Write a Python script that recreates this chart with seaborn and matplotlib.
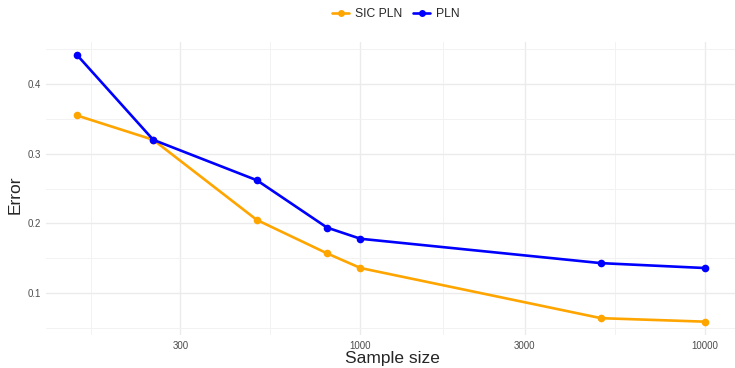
import numpy as np
import pandas as pd
import seaborn as sns
import matplotlib.pyplot as plt
from matplotlib.ticker import FixedLocator, NullFormatter

# values
sample_size = [150, 250, 500, 800, 1000, 5000, 10000]
err_sic_pln = [0.355, 0.320, 0.205, 0.157, 0.136, 0.064, 0.059]
err_pln = [0.442, 0.320, 0.262, 0.194, 0.178, 0.143, 0.136]
methods = ["SIC PLN", "PLN"]
colors = {"SIC PLN": "#FFA500", "PLN": "#0000FF"}
x_ticks = [300, 1000, 3000, 10000]
y_ticks = [0.1, 0.2, 0.3, 0.4]

df = pd.DataFrame({
    "Sample size": sample_size * 2,
    "Error": err_sic_pln + err_pln,
    "method": ["SIC PLN"] * len(sample_size) + ["PLN"] * len(sample_size),
})

sns.set_style("white")
plt.rcParams["font.family"] = ["Liberation Sans", "DejaVu Sans"]

fig = plt.figure(figsize=(7.35, 3.68), dpi=100)
ax = fig.add_axes([45.5 / 735, 33 / 368, 690.5 / 735, 293.5 / 368])

sns.lineplot(data=df, x="Sample size", y="Error", hue="method", hue_order=methods,
             palette=colors, marker="o", markersize=5.5, markeredgewidth=0,
             linewidth=1.9, ax=ax, legend=False, zorder=3)

ax.set_xscale("log")
lo, hi = np.log10(min(sample_size)), np.log10(max(sample_size))
pad = (hi - lo) * 0.05
ax.set_xlim(10 ** (lo - pad), 10 ** (hi + pad))
ymin, ymax = min(err_sic_pln + err_pln), max(err_sic_pln + err_pln)
ypad = (ymax - ymin) * 0.05
ax.set_ylim(ymin - ypad, ymax + ypad)

# ggplot-style grid: majors plus minors halfway (in log space)
lx = np.log10(x_ticks)
step = lx[1] - lx[0]
ext = np.concatenate([[lx[0] - step], lx])
minor_x = 10 ** ((ext[:-1] + ext[1:]) / 2)
ax.xaxis.set_major_locator(FixedLocator(x_ticks))
ax.xaxis.set_minor_locator(FixedLocator(minor_x))
ax.xaxis.set_minor_formatter(NullFormatter())
ax.set_xticklabels([str(v) for v in x_ticks])
ax.yaxis.set_major_locator(FixedLocator(y_ticks))
ax.yaxis.set_minor_locator(FixedLocator([0.05, 0.15, 0.25, 0.35, 0.45]))
ax.set_yticklabels([str(v) for v in y_ticks])

ax.grid(which="major", color="#EBEBEB", linewidth=1.0, zorder=0)
ax.grid(which="minor", color="#F2F2F2", linewidth=0.7, zorder=0)
for s in ax.spines.values():
    s.set_visible(False)
ax.tick_params(which="both", length=0, labelsize=7, labelcolor="#4D4D4D")
ax.tick_params(axis="x", pad=4.5)
ax.tick_params(axis="y", pad=3)

ax.set_xlabel("Sample size", fontsize=12.5, va="center")
ax.set_ylabel("Error", fontsize=12.5, va="center")
ax.xaxis.set_label_coords((392 - 45.5) / 690.5, (335 - 358.5) / 293.5)
ax.yaxis.set_label_coords((15 - 45.5) / 690.5, (335 - 195) / 293.5)

handles = [plt.Line2D([], [], color=colors[m], marker="o", markersize=5,
                      markeredgewidth=0, linewidth=1.9) for m in methods]
fig.legend(handles, methods, loc="center", bbox_to_anchor=(396 / 735, 1 - 14 / 368),
           ncol=2, frameon=False, fontsize=8.7, handlelength=1.4,
           handletextpad=0.5, columnspacing=0.9)

fig.savefig("out.png", dpi=100)
